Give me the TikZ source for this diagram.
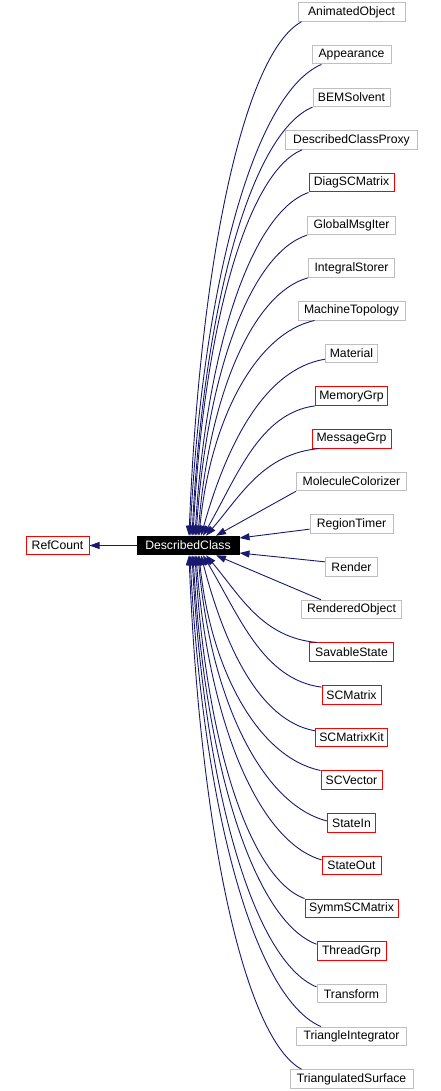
\documentclass[tikz,border=0pt]{standalone}
\usepackage{fontspec}
\setmainfont{Liberation Sans}
\usetikzlibrary{arrows.meta}
\definecolor{edgeblue}{RGB}{25,25,112}
\definecolor{boxgray}{RGB}{191,191,191}
\begin{document}
\begin{tikzpicture}[x=1pt, y=-1pt, line width=0.9pt,
  cls/.style={draw=boxgray, line width=1pt, minimum height=18.5pt, inner sep=0pt, font=\fontsize{12.2}{14}\selectfont},
  clsred/.style={cls, draw=red},
  dcls/.style={cls, draw=black, fill=black, text=white},
  inh/.style={draw=edgeblue, -{Triangle[length=10pt,width=7pt]}, fill=none}]

\useasboundingbox (0,0) rectangle (441,1091);

\node[clsred, minimum width=63pt] (rc) at (57.5,545.5) {RefCount};
\node[dcls, minimum width=102pt] (dc) at (188,545.5) {DescribedClass};
\draw[inh] (dc) -- (rc);

\node[cls, minimum width=107pt] (ao) at (351.5,12) {AnimatedObject};
\node[cls, minimum width=79pt] (app) at (351.5,54.68) {Appearance};
\node[cls, minimum width=77pt] (bem) at (351.5,97.36) {BEMSolvent};
\node[cls, minimum width=132pt] (dcp) at (351.5,140.04) {DescribedClassProxy};
\node[clsred, minimum width=85pt] (diag) at (351.5,182.72) {DiagSCMatrix};
\node[cls, minimum width=88pt] (gmi) at (351.5,225.4) {GlobalMsgIter};
\node[cls, minimum width=86pt] (ist) at (351.5,268.08) {IntegralStorer};
\node[cls, minimum width=107pt] (mtop) at (351.5,310.76) {MachineTopology};
\node[cls, minimum width=52pt] (mat) at (351.5,353.44) {Material};
\node[clsred, minimum width=72pt] (memg) at (351.5,396.12) {MemoryGrp};
\node[clsred, minimum width=79pt] (msgg) at (351.5,438.8) {MessageGrp};
\node[cls, minimum width=110pt] (molc) at (351.5,481.48) {MoleculeColorizer};
\node[cls, minimum width=83pt] (rtim) at (351.5,524.16) {RegionTimer};
\node[cls, minimum width=52pt] (rend) at (351.5,566.84) {Render};
\node[cls, minimum width=100pt] (robj) at (351.5,609.52) {RenderedObject};
\node[clsred, minimum width=84pt] (sav) at (351.5,652.2) {SavableState};
\node[clsred, minimum width=59pt] (scm) at (351.5,694.88) {SCMatrix};
\node[clsred, minimum width=72pt] (scmk) at (351.5,737.56) {SCMatrixKit};
\node[clsred, minimum width=61pt] (scv) at (351.5,780.24) {SCVector};
\node[clsred, minimum width=48pt] (sin) at (351.5,822.92) {StateIn};
\node[clsred, minimum width=59pt] (sout) at (351.5,865.6) {StateOut};
\node[clsred, minimum width=93pt] (ssm) at (351.5,908.28) {SymmSCMatrix};
\node[clsred, minimum width=69pt] (thr) at (351.5,950.96) {ThreadGrp};
\node[cls, minimum width=69pt] (trf) at (351.5,993.64) {Transform};
\node[cls, minimum width=110pt] (tint) at (351.5,1036.32) {TriangleIntegrator};
\node[cls, minimum width=123pt] (tsurf) at (351.5,1079) {TriangulatedSurface};

\draw[inh] ([xshift=4pt]ao.south west) .. controls (245.5,52.1) and (200.3,252.9) .. ([xshift=1pt]dc.north);
\draw[inh] ([xshift=10pt]app.south west) .. controls (256,92.2) and (203.2,276.3) .. ([xshift=2pt]dc.north);
\draw[inh] (bem.south west) .. controls (252.5,132.4) and (204.1,299.8) .. ([xshift=4pt]dc.north);
\draw[inh] ([xshift=17pt]dcp.south west) .. controls (247.75,172.5) and (204,323.3) .. ([xshift=5pt]dc.north);
\draw[inh] (diag.south west) .. controls (252,212.6) and (206.4,346.8) .. ([xshift=7pt]dc.north);
\draw[inh] (gmi.south west) .. controls (251.75,252.8) and (207.15,370.3) .. ([xshift=8pt]dc.north);
\draw[inh] (ist.south west) .. controls (253.25,292.8) and (209.05,393.7) .. ([xshift=10pt]dc.north);
\draw[inh] ([xshift=17pt]mtop.south west) .. controls (257,333) and (210.6,417.2) .. ([xshift=11pt]dc.north);
\draw[inh] ([yshift=4pt]mat.south west) .. controls (263.25,369.3) and (225.9,447.4) .. ([xshift=13pt]dc.north);
\draw[inh] (memg.south west) .. controls (259.25,413.2) and (236.75,477.2) .. ([xshift=15pt]dc.north);
\draw[inh] ([xshift=8pt]msgg.south west) .. controls (263,453.4) and (240.2,496.4) .. ([xshift=18pt]dc.north);
\draw[inh] (molc.south west) -- ([xshift=28pt]dc.north);
\draw[inh] ([yshift=-5pt]rtim.west) -- ([yshift=7.5pt]dc.east);
\draw[inh] ([yshift=5pt]rend.west) -- ([yshift=-7.5pt]dc.east);
\draw[inh] ([xshift=20pt]robj.north west) -- ([xshift=28pt]dc.south);
\draw[inh] ([xshift=8pt]sav.north west) .. controls (261.75,637.7) and (239.45,594.6) .. ([xshift=18pt]dc.south);
\draw[inh] ([yshift=-2pt]scm.north west) .. controls (262.5,679.6) and (238.7,614.7) .. ([xshift=15pt]dc.south);
\draw[inh] ([yshift=-3pt]scmk.north west) .. controls (258.25,720.7) and (223.9,643.2) .. ([xshift=13pt]dc.south);
\draw[inh] (scv.north west) .. controls (260,758) and (211.2,673.8) .. ([xshift=11pt]dc.south);
\draw[inh] ([yshift=2pt]sin.west) .. controls (262.75,804.9) and (210.95,701.2) .. ([xshift=10pt]dc.south);
\draw[inh] ([yshift=-4pt]sout.north west) .. controls (259,842) and (208.6,722.9) .. ([xshift=8pt]dc.south);
\draw[inh] (ssm.north west) .. controls (250,878.4) and (206,744.2) .. ([xshift=7pt]dc.south);
\draw[inh] ([yshift=-3pt]thr.north west) .. controls (255,921.3) and (205.4,769.3) .. ([xshift=5pt]dc.south);
\draw[inh] ([yshift=-3pt]trf.north west) .. controls (254.5,961.4) and (204.5,792.8) .. ([xshift=4pt]dc.south);
\draw[inh] ([xshift=25pt]tint.north west) .. controls (255.75,998.8) and (203.15,814.7) .. ([xshift=2pt]dc.south);
\draw[inh] ([xshift=12pt]tsurf.north west) .. controls (245.5,1038.9) and (200.3,838.1) .. ([xshift=1pt]dc.south);

\end{tikzpicture}
\end{document}
